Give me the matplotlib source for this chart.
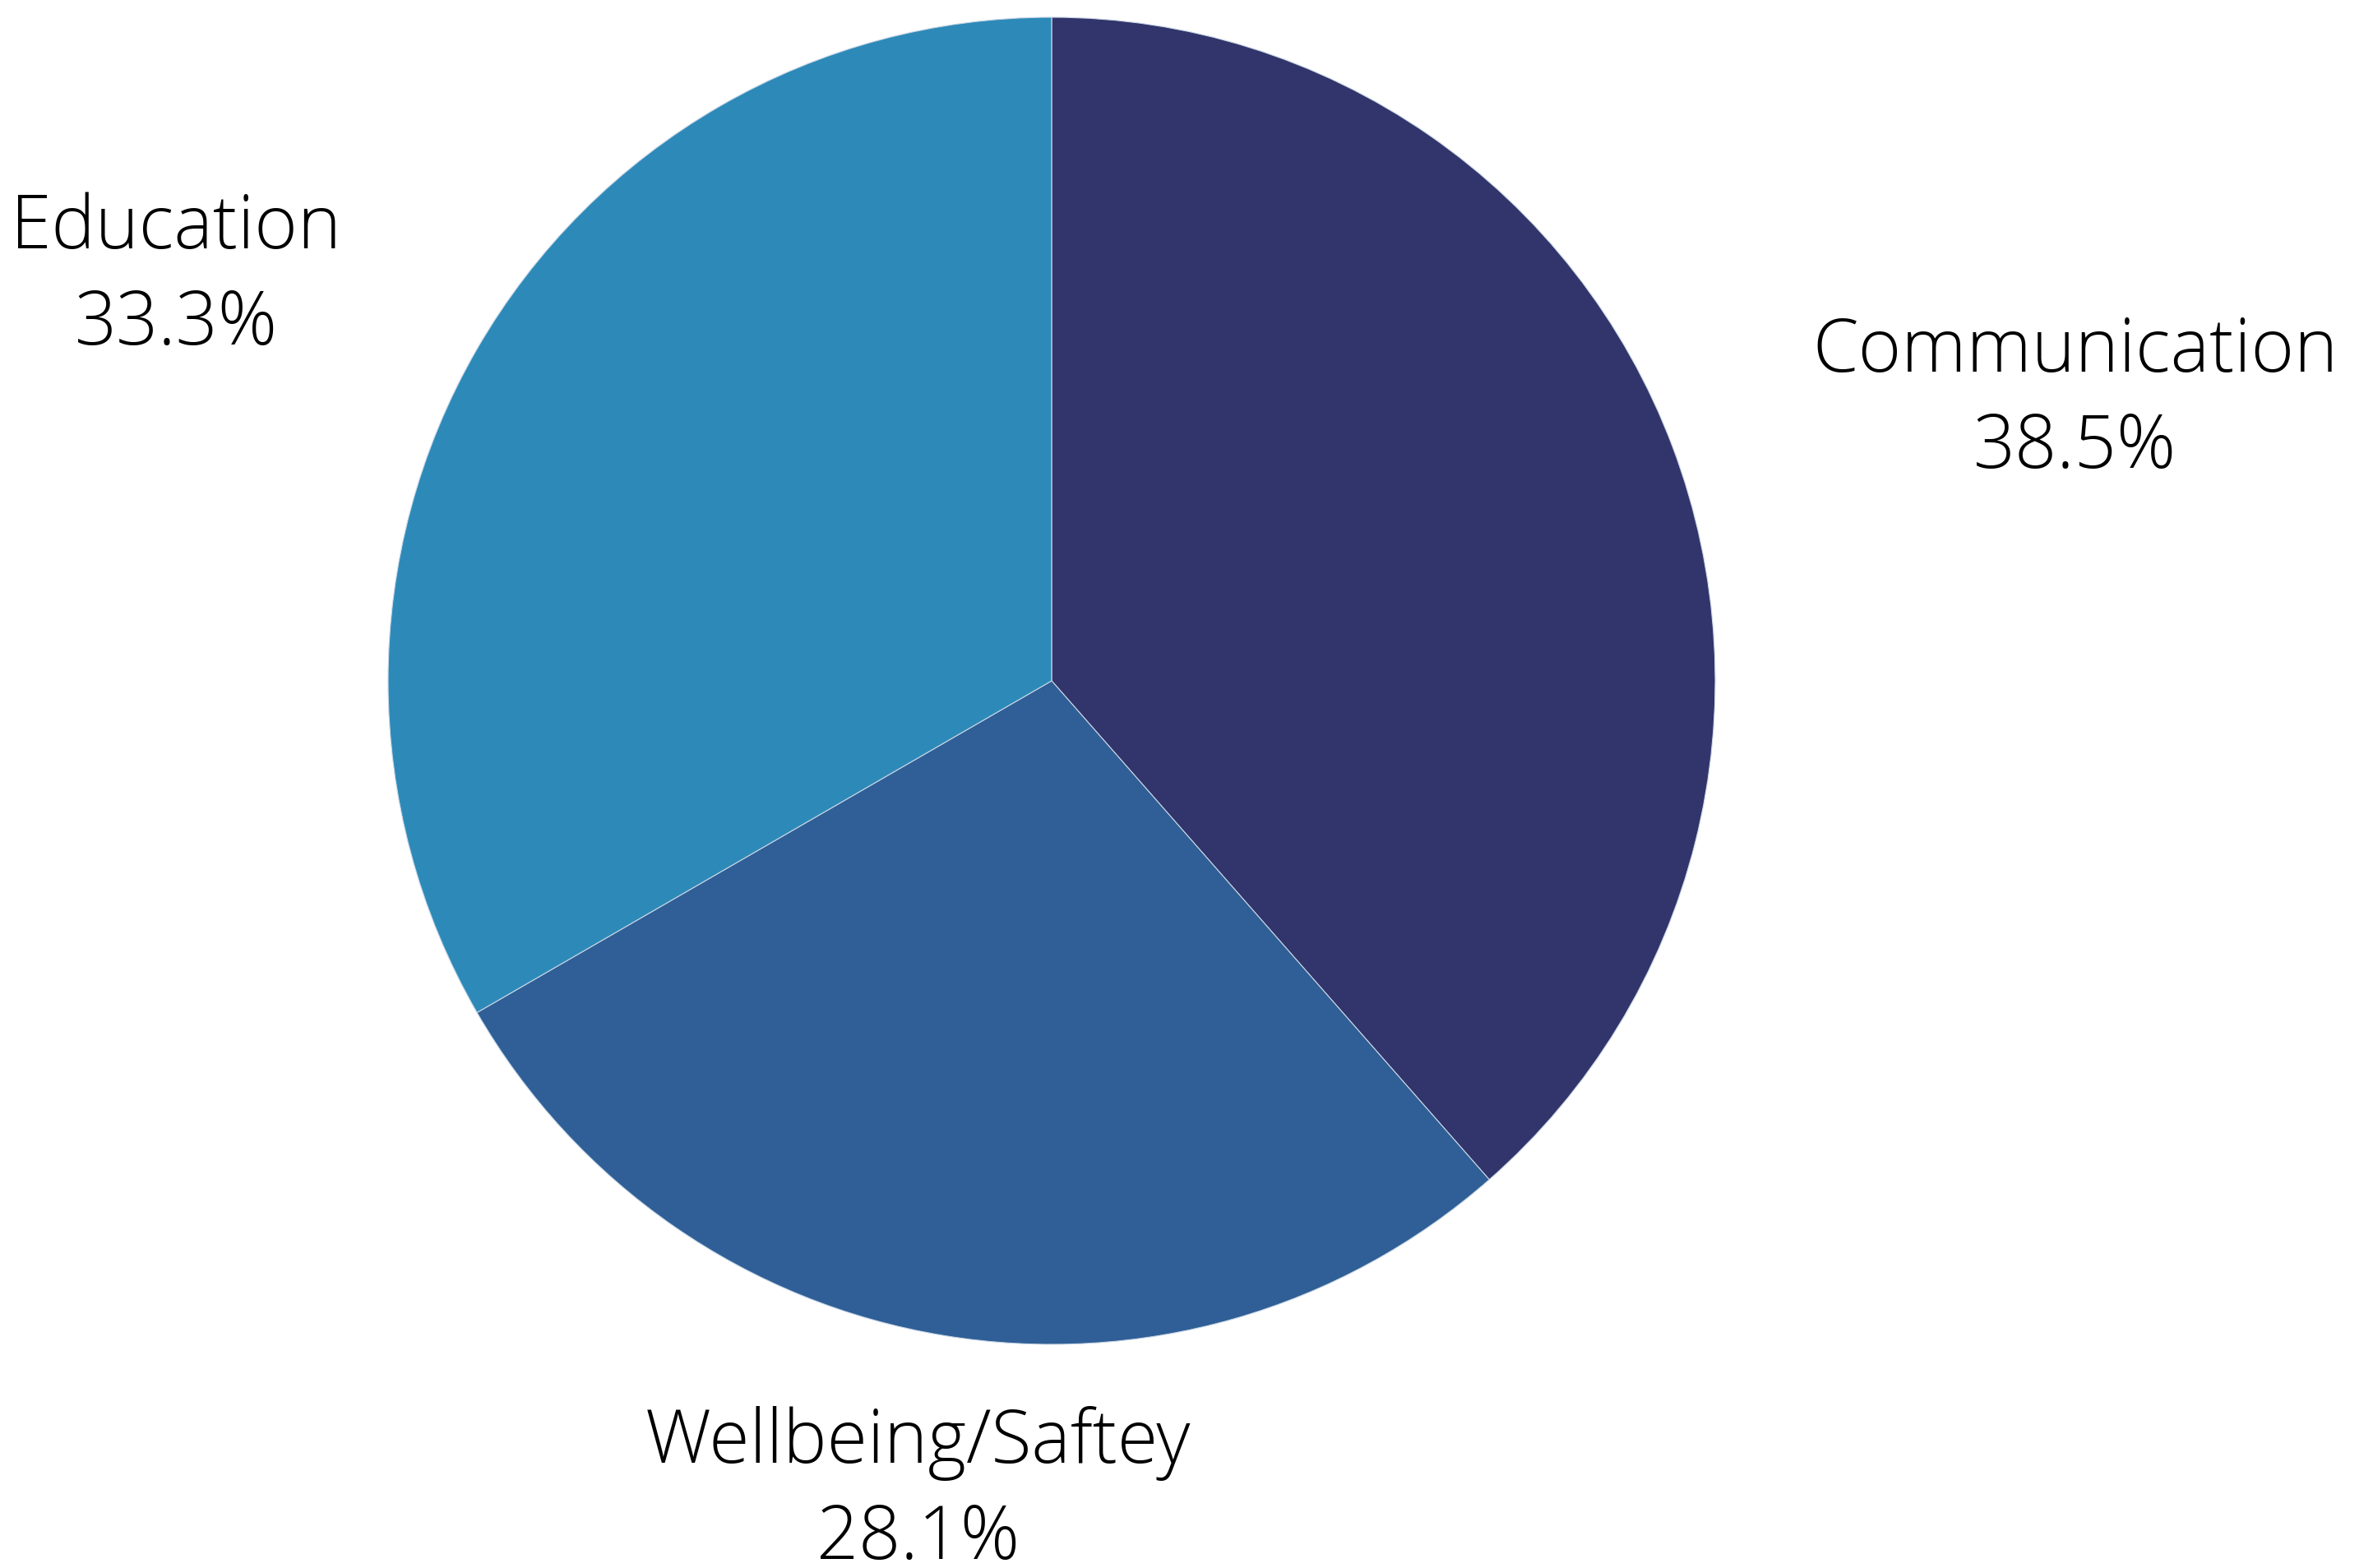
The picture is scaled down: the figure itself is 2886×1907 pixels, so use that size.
import matplotlib
matplotlib.use("Agg")
import matplotlib.pyplot as plt

categories = ["Communication", "Wellbeing/Saftey", "Education"]
values = [38.5, 28.1, 33.3]
colors = ["#31356B", "#2F5F96", "#2D8AB8"]

W, H = 2886, 1908
fig = plt.figure(figsize=(W / 100, H / 100), dpi=100)
ax = fig.add_axes([0, 0, 1, 1])

cx, cy, r = 1279, H - 829, 807
ax.pie(values, colors=colors, startangle=90, counterclock=False,
       center=(cx, cy), radius=r, frame=True,
       wedgeprops=dict(edgecolor="#c9d6e6", linewidth=0.8))
ax.set_xlim(0, W)
ax.set_ylim(0, H)
ax.set_aspect("equal")
ax.axis("off")

label_pos = {"Communication": (2524, H - 487),
             "Wellbeing/Saftey": (1117, H - 1814),
             "Education": (214, H - 337)}
for cat, v in zip(categories, values):
    x, y = label_pos[cat]
    ax.text(x, y, f"{cat}\n{v:.1f}%", ha="center", va="center",
            fontsize=64.5, family="Open Sans", fontweight="light",
            linespacing=1.38, color="black")

fig.savefig("out.png", dpi=100)
